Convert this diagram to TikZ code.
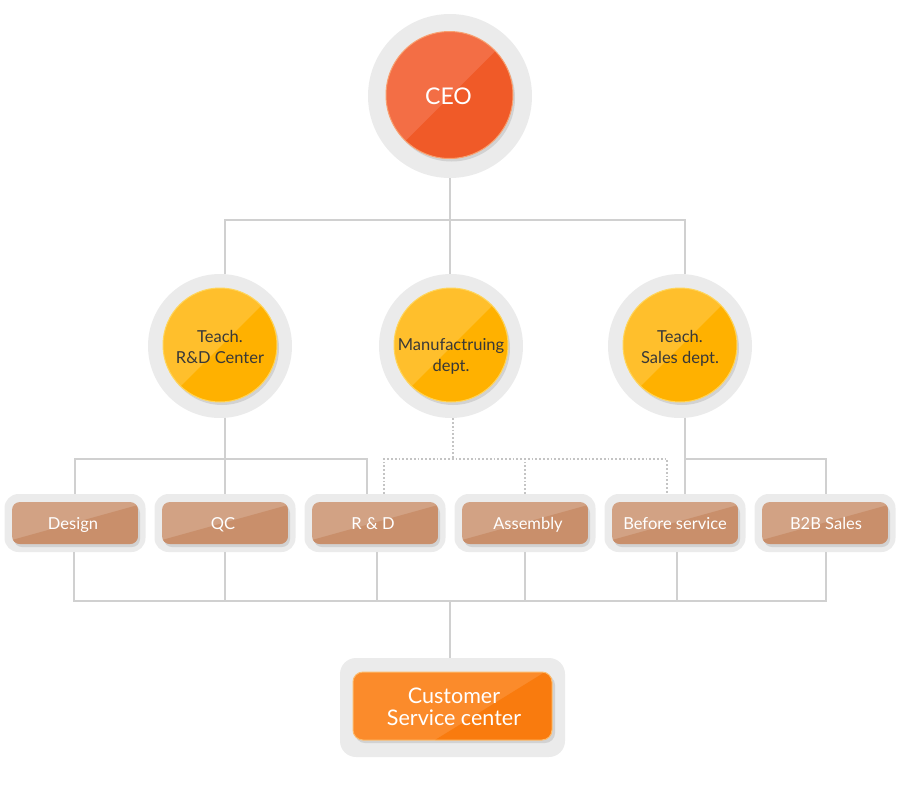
\documentclass[tikz,border=0pt]{standalone}
\usepackage{fontspec}
\setmainfont{Lato}
\definecolor{ringgray}{HTML}{EBEBEB}
\definecolor{shadowgray}{HTML}{D2D2D2}
\definecolor{linegray}{HTML}{D0D0D0}
\definecolor{dotgray}{HTML}{C4C4C4}
\definecolor{ceolight}{HTML}{F36E45}
\definecolor{ceodark}{HTML}{F05A28}
\definecolor{ceorim}{HTML}{F8A070}
\definecolor{yellight}{HTML}{FFBF2C}
\definecolor{yeldark}{HTML}{FFB100}
\definecolor{yelrim}{HTML}{FFD55A}
\definecolor{boxlight}{HTML}{D2A284}
\definecolor{boxdark}{HTML}{C98F6B}
\definecolor{csclight}{HTML}{FB8B2B}
\definecolor{cscdark}{HTML}{F97B0E}
\definecolor{cscrim}{HTML}{FDBA6A}
\definecolor{darktext}{HTML}{383838}
\newcommand\splitcirc[6]{%
  \fill[shadowgray] (#1+2,#2+3) circle (#3pt);
  \begin{scope}
    \clip (#1,#2) circle (#3pt);
    \fill[#4] (#1-#3,#2-#3) rectangle (#1+#3,#2+#3);
    \fill[#5] (#1+#3+5,#2-#3-3) -- (#1-#3-3,#2+#3+5) -- (#1+#3+5,#2+#3+5) -- cycle;
  \end{scope}
  \draw[#6, line width=1pt] (#1,#2) circle (#3pt);}
\newcommand\splitbox[7]{%
  \fill[shadowgray, rounded corners=#5] (#1-#3/2+2,#2-#4/2+3) rectangle (#1+#3/2+2,#2+#4/2+3);
  \begin{scope}
    \clip[rounded corners=#5] (#1-#3/2,#2-#4/2) rectangle (#1+#3/2,#2+#4/2);
    \fill[#6] (#1-#3/2,#2-#4/2) rectangle (#1+#3/2,#2+#4/2);
    \fill[#7] (#1+#3/2,#2-#4/2+3) -- (#1-#3/2,#2+#4/2-4) -- (#1-#3/2,#2+#4/2) -- (#1+#3/2,#2+#4/2) -- cycle;
  \end{scope}}
\tikzset{
  ring/.style={circle, fill=ringgray, inner sep=0pt, minimum size=#1},
  boxring/.style={rectangle, fill=ringgray, rounded corners=14pt, inner sep=0pt, minimum width=141pt, minimum height=58pt},
  conn/.style={draw=linegray, line width=1.8pt},
  dots/.style={draw=dotgray, line width=1.8pt, dotted},
  ceotext/.style={text=white, font=\fontsize{23}{27}\selectfont},
  midtext/.style={text=darktext, align=center, font=\fontsize{16.5}{21}\selectfont},
  boxtext/.style={text=white, anchor=base, font=\fontsize{16.5}{20}\selectfont},
  csctext/.style={text=white, align=center, font=\fontsize{21.5}{22}\selectfont}
}
\begin{document}
\begin{tikzpicture}[x=1pt,y=-1pt]
\useasboundingbox (0,0) rectangle (900,790);
% outer rings
\node[ring=164pt] (ceo) at (450,96) {};
\node[ring=144pt] (rdc) at (220,346) {};
\node[ring=144pt] (mfg) at (451,346) {};
\node[ring=144pt] (sal) at (680,346) {};
\node[boxring] (b1) at (75,523) {};
\node[boxring] (b2) at (225,523) {};
\node[boxring] (b3) at (375,523) {};
\node[boxring] (b4) at (525,523) {};
\node[boxring] (b5) at (675,523) {};
\node[boxring] (b6) at (825,523) {};
\node[rectangle, fill=ringgray, rounded corners=16pt, inner sep=0pt, minimum width=225pt, minimum height=99pt] (csc) at (452.5,707.5) {};
% connectors
\coordinate (jT) at (450,220);
\draw[conn] (ceo) -- (jT);
\draw[conn] ([xshift=5pt]rdc.north) |- (jT) -| ([xshift=5pt]sal.north);
\draw[conn] (jT) -- (mfg.north -| jT);
\coordinate (jL) at (225,459);
\draw[conn] ([xshift=5pt]rdc.south) -- (jL);
\draw[conn] (b1.north) |- (jL) -| ([xshift=-8pt]b3.north);
\draw[conn] (jL) -- (b2.north);
\coordinate (jM) at (453,459);
\draw[dots] ([xshift=2pt]mfg.south) -- (jM);
\draw[dots] ([xshift=9pt]b3.north) |- (jM) -| ([xshift=-8pt]b5.north);
\draw[dots] (b4.north) -- (b4.north |- jM);
\coordinate (jR) at (685,459);
\draw[conn] ([xshift=5pt]sal.south) -- ([xshift=10pt]b5.north);
\draw[conn] (jR) -| ([xshift=1pt]b6.north);
\coordinate (jB) at (450,601);
\draw[conn] ([xshift=-1pt]b1.south) |- (jB) -| ([xshift=1pt]b6.south);
\draw[conn] (b2.south) -- (b2.south |- jB);
\draw[conn] ([xshift=2pt]b3.south) -- ([xshift=2pt]b3.south |- jB);
\draw[conn] (b4.south) -- (b4.south |- jB);
\draw[conn] ([xshift=2pt]b5.south) -- ([xshift=2pt]b5.south |- jB);
\draw[conn] (jB) -- (csc.north -| jB);
% inner shapes
\splitcirc{449.5}{95}{63.5}{ceolight}{ceodark}{ceorim}
\splitcirc{220}{345}{57}{yellight}{yeldark}{yelrim}
\splitcirc{451}{345}{57}{yellight}{yeldark}{yelrim}
\splitcirc{680}{345}{57}{yellight}{yeldark}{yelrim}
\foreach \cx in {75,225,375,525,675,825} {\splitbox{\cx}{523}{126}{42}{8pt}{boxlight}{boxdark}}
\fill[shadowgray, rounded corners=10pt] (355,675) rectangle (555,743);
\begin{scope}
  \clip[rounded corners=10pt] (353,672) rectangle (552,740);
  \fill[csclight] (353,672) rectangle (552,740);
  \fill[cscdark] (545,672) -- (435,740) -- (552,740) -- (552,672) -- cycle;
\end{scope}
\draw[cscrim, line width=1pt, rounded corners=10pt] (353,672) rectangle (552,740);
% texts
\node[ceotext] (tceo) at (448.5,96) {CEO};
\node[midtext] (trdc) at (220,347) {Teach.\\R\&D Center};
\node[midtext] (tmfg) at (451,356) {Manufactruing\\dept.};
\node[midtext] (tsal) at (680,348) {Teach.\\Sales dept.};
\node[boxtext] (t1) at (73,529.5) {Design};
\node[boxtext] (t2) at (223,529.5) {QC};
\node[boxtext] (t3) at (373,529.5) {R \& D};
\node[boxtext] (t4) at (528,529.5) {Assembly};
\node[boxtext] (t5) at (675,529.5) {Before service};
\node[boxtext] (t6) at (826,529.5) {B2B Sales};
\node[csctext] (tcsc) at (454,707) {Customer\\Service center};
\end{tikzpicture}
\end{document}
